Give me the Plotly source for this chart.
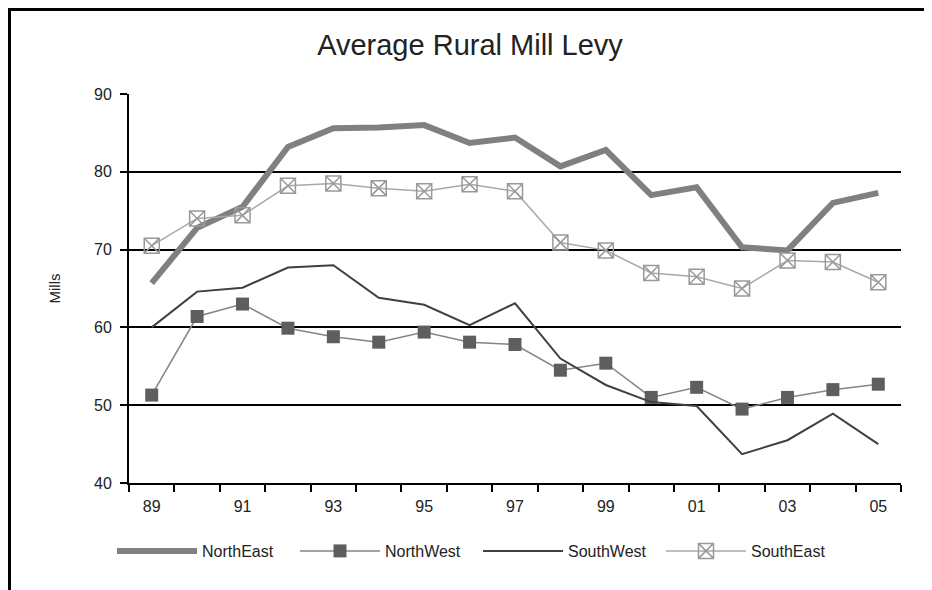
import plotly.graph_objects as go

years = ["89", "90", "91", "92", "93", "94", "95", "96", "97", "98", "99", "00", "01", "02", "03", "04", "05"]
tick_labels = ["89", "", "91", "", "93", "", "95", "", "97", "", "99", "", "01", "", "03", "", "05"]

north_east = [65.7, 72.8, 75.5, 83.2, 85.6, 85.7, 86.0, 83.7, 84.4, 80.7, 82.8, 77.0, 78.0, 70.3, 69.9, 76.0, 77.3]
north_west = [51.3, 61.4, 63.0, 59.9, 58.8, 58.1, 59.4, 58.1, 57.8, 54.5, 55.4, 51.0, 52.3, 49.5, 51.0, 52.0, 52.7]
south_west = [60.0, 64.6, 65.1, 67.7, 68.0, 63.8, 62.9, 60.3, 63.1, 56.0, 52.6, 50.4, 49.9, 43.7, 45.5, 48.9, 45.0]
south_east = [70.5, 74.0, 74.4, 78.2, 78.5, 77.9, 77.5, 78.4, 77.5, 70.9, 69.9, 67.0, 66.5, 65.0, 68.6, 68.4, 65.8]

FONT = "Liberation Sans, Arial, sans-serif"
TXT = "#222222"

# page body has an 8px offset; figure sized to fill the rest of the window
W, H = 924, 582
L, R, T, B = 121, 31, 86, 107
PW, PH = W - L - R, H - T - B


def px_x(x):
    return (x - 8 - L) / PW


def px_y(y):
    return (H - B - (y - 8)) / PH


fig = go.Figure()
fig.add_trace(go.Scatter(x=years, y=north_east, name="NorthEast", mode="lines",
                         line=dict(color="#808080", width=6)))
fig.add_trace(go.Scatter(x=years, y=north_west, name="NorthWest", mode="lines+markers",
                         line=dict(color="#858585", width=1.5),
                         marker=dict(symbol="square", size=13, color="#5e5e5e")))
fig.add_trace(go.Scatter(x=years, y=south_west, name="SouthWest", mode="lines",
                         line=dict(color="#404040", width=2)))
fig.add_trace(go.Scatter(x=years, y=south_east, name="SouthEast", mode="lines+markers",
                         line=dict(color="#a8a8a8", width=1.5),
                         marker=dict(symbol="square-x-open", size=15, color="#999999",
                                     line=dict(width=1.5, color="#999999"))))

fig.update_layout(
    width=W, height=H,
    margin=dict(l=L, r=R, t=T, b=B),
    paper_bgcolor="white", plot_bgcolor="white",
    font=dict(family=FONT, color=TXT),
    title=dict(text="Average Rural Mill Levy", x=0.5, xanchor="center", xref="container",
               y=1 - (45 - 8) / H, yanchor="middle", font=dict(size=29, family=FONT, color=TXT)),
    showlegend=True,
    legend=dict(orientation="h", x=px_x(112), xanchor="left", y=px_y(551), yanchor="middle",
                font=dict(size=16, family=FONT, color=TXT),
                entrywidth=88, entrywidthmode="pixels", itemwidth=80,
                bgcolor="rgba(0,0,0,0)"),
    shapes=[dict(type="rect", xref="paper", yref="paper",
                 x0=px_x(9.5), x1=px_x(1000),
                 y0=px_y(700), y1=px_y(9.5),
                 line=dict(color="black", width=3), layer="above")],
)

fig.update_xaxes(type="category", range=[-0.5, 16.5],
                 tickmode="array", tickvals=years, ticktext=tick_labels,
                 tickson="boundaries", ticks="outside", ticklen=7, tickwidth=2, tickcolor="black",
                 ticklabelstandoff=8,
                 showline=True, linecolor="black", linewidth=2, showgrid=False,
                 tickfont=dict(size=16, family=FONT, color=TXT))
fig.update_yaxes(range=[40, 90], tickvals=[40, 50, 60, 70, 80, 90],
                 ticks="outside", ticklen=7, tickwidth=2, tickcolor="black",
                 ticklabelstandoff=5,
                 showline=True, linecolor="black", linewidth=2,
                 showgrid=True, gridcolor="black", gridwidth=2, zeroline=False,
                 tickfont=dict(size=16, family=FONT, color=TXT),
                 title=dict(text="Mills", standoff=30, font=dict(size=15, family=FONT, color=TXT)))

fig.write_html("out.html")
